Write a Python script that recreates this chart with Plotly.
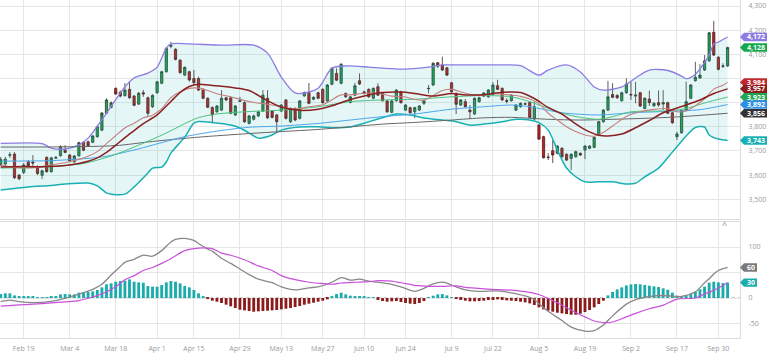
import pandas as pd
import plotly.graph_objects as go

# ---------------- trading calendar ----------------
holidays = ["2024-03-29", "2024-04-10", "2024-04-11", "2024-05-01", "2024-05-22",
            "2024-06-03", "2024-06-17", "2024-07-08", "2024-09-16"]
days = [d.strftime("%Y-%m-%d") for d in pd.bdate_range("2024-02-12", "2024-10-02")]
dates = [d for d in days if d not in holidays]

tick_dates = ["2024-02-19", "2024-03-04", "2024-03-18", "2024-04-01", "2024-04-15",
              "2024-04-29", "2024-05-13", "2024-05-27", "2024-06-10", "2024-06-24",
              "2024-07-09", "2024-07-22", "2024-08-05", "2024-08-19", "2024-09-02",
              "2024-09-17", "2024-09-30"]
tick_text = ["Feb 19", "Mar 4", "Mar 18", "Apr 1", "Apr 15", "Apr 29", "May 13", "May 27",
             "Jun 10", "Jun 24", "Jul 9", "Jul 22", "Aug 5", "Aug 19", "Sep 2", "Sep 17", "Sep 30"]

# ---------------- OHLC ----------------
opens = [
    3644, 3646, 3682, 3687, 3600, 3611, 3655, 3654, 3635, 3599,
    3673, 3614, 3670, 3680, 3703, 3683, 3655, 3680, 3736, 3738,
    3736, 3759, 3786, 3856, 3880, 3959, 3943, 3929, 3955, 3927,
    3894, 3941, 3920, 3883, 3941, 3980, 4028, 4133, 4121, 4076,
    4014, 4028, 4000, 4000, 3955, 3918, 3880, 3862, 3869, 3920,
    3920, 3849, 3905, 3900, 3814, 3831, 3845, 3865, 3918, 3865,
    3849, 3865, 3911, 3821, 3876, 3835, 3928, 3942, 3914, 3941,
    3955, 3907, 3976, 4021, 3980, 3938, 3901, 3931, 3991, 3945,
    3955, 3918, 3966, 3938, 3907, 3860, 3908, 3945, 3869, 3879,
    3862, 3869, 3897, 3957, 3973, 4065, 4056, 4044, 3982, 3938,
    3890, 3904, 3869, 3853, 3904, 3927, 3924, 3934, 3970, 3959,
    3909, 3908, 3869, 3883, 3895, 3901, 3832, 3807, 3759, 3675,
    3701, 3690, 3711, 3686, 3669, 3676, 3690, 3704, 3711, 3715,
    3766, 3821, 3869, 3934, 3930, 3908, 3941, 3934, 3927, 3941,
    3876, 3915, 3887, 3900, 3894, 3900, 3858, 3759, 3775, 3869,
    3918, 3991, 4002, 4035, 4073, 4191, 4088, 4050, 4052]
highs = [
    3675, 3676, 3695, 3695, 3604, 3650, 3662, 3683, 3640, 3622,
    3678, 3676, 3679, 3724, 3724, 3687, 3683, 3738, 3740, 3742,
    3766, 3804, 3861, 3918, 3905, 3963, 3950, 3981, 3987, 3932,
    3944, 3952, 3925, 3935, 3990, 4032, 4130, 4152, 4125, 4080,
    4050, 4032, 4035, 4007, 3959, 3922, 3884, 3890, 3952, 3924,
    3924, 3890, 3924, 3905, 3849, 3851, 3866, 3952, 3952, 3869,
    3853, 3894, 3915, 3880, 3880, 3911, 3946, 3981, 3926, 3945,
    3959, 3977, 4046, 4042, 4063, 3942, 3928, 3982, 4021, 3949,
    3959, 3963, 3980, 3942, 3911, 3911, 3956, 3949, 3894, 3883,
    3883, 3890, 3914, 3973, 4067, 4068, 4090, 4048, 3986, 3942,
    3915, 3915, 3890, 3922, 3924, 3944, 3956, 3985, 3995, 3963,
    3918, 3935, 3894, 3901, 3900, 3905, 3904, 3811, 3763, 3690,
    3745, 3724, 3715, 3690, 3690, 3701, 3694, 3724, 3724, 3760,
    3825, 3873, 3990, 3980, 3934, 3945, 4001, 3985, 3986, 3945,
    3922, 3950, 3901, 3950, 3952, 3904, 3862, 3779, 3873, 3987,
    3977, 4069, 4059, 4097, 4193, 4239, 4092, 4063, 4132]
lows = [
    3637, 3637, 3671, 3584, 3579, 3604, 3633, 3629, 3600, 3584,
    3610, 3610, 3668, 3676, 3691, 3654, 3650, 3676, 3699, 3717,
    3732, 3755, 3782, 3852, 3876, 3932, 3922, 3925, 3916, 3885,
    3890, 3924, 3845, 3878, 3937, 3976, 4024, 4125, 4075, 4020,
    4010, 3987, 3973, 3948, 3914, 3877, 3815, 3858, 3865, 3907,
    3852, 3845, 3903, 3816, 3810, 3826, 3840, 3861, 3832, 3835,
    3775, 3861, 3830, 3816, 3823, 3830, 3924, 3893, 3910, 3914,
    3896, 3903, 3972, 3989, 3976, 3920, 3897, 3927, 3973, 3934,
    3920, 3914, 3927, 3904, 3858, 3856, 3904, 3896, 3865, 3854,
    3836, 3865, 3890, 3938, 3969, 4044, 4031, 4010, 3941, 3853,
    3886, 3879, 3832, 3849, 3900, 3923, 3920, 3930, 3951, 3907,
    3897, 3904, 3865, 3879, 3890, 3835, 3828, 3745, 3668, 3662,
    3650, 3686, 3672, 3658, 3621, 3672, 3679, 3666, 3707, 3711,
    3762, 3817, 3865, 3918, 3916, 3904, 3937, 3911, 3897, 3882,
    3872, 3886, 3883, 3883, 3869, 3852, 3812, 3745, 3771, 3865,
    3914, 3987, 3998, 4031, 4069, 4093, 4034, 4043, 4048]
closes = [
    3665, 3666, 3684, 3589, 3585, 3642, 3639, 3650, 3607, 3618,
    3614, 3671, 3673, 3717, 3694, 3658, 3679, 3734, 3703, 3721,
    3762, 3800, 3857, 3911, 3899, 3936, 3927, 3952, 3920, 3889,
    3939, 3936, 3856, 3930, 3986, 4028, 4125, 4137, 4079, 4024,
    4046, 3994, 3983, 3952, 3918, 3881, 3849, 3886, 3918, 3911,
    3856, 3886, 3908, 3821, 3845, 3845, 3862, 3931, 3837, 3839,
    3821, 3890, 3835, 3876, 3828, 3907, 3942, 3897, 3922, 3918,
    3900, 3973, 4042, 3993, 4059, 3924, 3924, 3970, 3977, 3938,
    3924, 3959, 3931, 3908, 3862, 3907, 3952, 3900, 3890, 3858,
    3879, 3886, 3907, 3959, 4063, 4051, 4035, 4014, 3945, 3893,
    3911, 3883, 3862, 3918, 3920, 3940, 3952, 3973, 3955, 3911,
    3906, 3931, 3890, 3897, 3894, 3839, 3883, 3749, 3672, 3673,
    3683, 3720, 3676, 3662, 3686, 3697, 3683, 3720, 3720, 3756,
    3821, 3869, 3924, 3922, 3920, 3941, 3977, 3932, 3931, 3886,
    3918, 3900, 3897, 3890, 3900, 3856, 3817, 3770, 3869, 3904,
    3973, 4005, 4014, 4073, 4189, 4097, 4038, 4052, 4128]

# ---------------- overlays (bar index, value) ----------------
bb_up_idx = [0, 9, 11, 14, 17, 19, 23, 27, 29, 32, 34, 35, 36, 37, 41, 48, 55, 58, 61, 64,
             67, 69, 70, 72, 75, 80, 83, 87, 91, 93, 96, 101, 109, 113, 117, 119, 123, 126, 129, 131,
             135, 138, 141, 145, 148, 149, 151, 154, 155, 156, 158]
bb_up_val = [3731, 3730, 3712, 3708, 3725, 3753, 3857, 3965, 4002, 4022, 4047, 4085, 4126, 4143, 4143, 4138, 4138, 4105, 4006, 3940,
             3944, 3960, 3985, 4043, 4052, 4047, 4043, 4039, 4043, 4047, 4056, 4056, 4056, 4053, 4014, 4035, 4056, 4027, 3965, 3952,
             3965, 4002, 4035, 4033, 4010, 3999, 4018, 4097, 4143, 4151, 4172]
bb_lo_idx = [0, 6, 11, 14, 19, 21, 23, 24, 27, 29, 32, 33, 35, 36, 37, 40, 42, 43, 46, 50,
             52, 54, 56, 59, 61, 65, 69, 72, 76, 79, 82, 85, 86, 89, 92, 96, 99, 102, 105, 109,
             112, 115, 117, 119, 121, 123, 125, 127, 130, 133, 136, 138, 140, 143, 146, 149, 151, 153, 154, 156, 158]
bb_lo_val = [3538, 3551, 3557, 3563, 3567, 3555, 3526, 3521, 3521, 3551, 3609, 3629, 3633, 3654, 3691, 3757, 3815, 3822, 3818, 3807,
             3795, 3774, 3753, 3766, 3786, 3799, 3800, 3796, 3799, 3815, 3832, 3849, 3853, 3849, 3836, 3828, 3821, 3807, 3811, 3821,
             3831, 3828, 3817, 3786, 3704, 3629, 3593, 3572, 3572, 3572, 3563, 3566, 3593, 3629, 3695, 3762, 3797, 3799, 3766, 3749, 3743]
sma_idx = [0, 5, 10, 14, 17, 19, 21, 23, 25, 27, 29, 31, 34, 37, 39, 41, 43, 46, 48, 51,
           54, 58, 61, 65, 69, 72, 76, 80, 83, 87, 90, 94, 98, 101, 105, 109, 113, 116, 119, 122,
           124, 127, 130, 132, 135, 138, 141, 144, 148, 152, 155, 158]
sma_val = [3633, 3635, 3635, 3640, 3648, 3657, 3671, 3694, 3724, 3755, 3784, 3813, 3849, 3905, 3942, 3967, 3976, 3971, 3968, 3961,
           3950, 3908, 3882, 3868, 3873, 3887, 3913, 3932, 3942, 3944, 3938, 3927, 3938, 3932, 3933, 3943, 3942, 3917, 3880, 3852,
           3825, 3788, 3765, 3762, 3770, 3796, 3826, 3858, 3884, 3911, 3938, 3957]
ema_idx = [0, 4, 8, 12, 15, 17, 19, 21, 23, 25, 27, 29, 31, 33, 35, 37, 39, 41, 43, 45,
           47, 50, 54, 58, 61, 64, 67, 70, 72, 74, 76, 79, 82, 85, 88, 90, 92, 94, 96, 98,
           101, 104, 107, 110, 113, 115, 117, 119, 121, 123, 125, 127, 129, 131, 133, 136, 139, 142, 145, 147,
           149, 151, 153, 155, 157, 158]
ema_val = [3642, 3630, 3632, 3645, 3655, 3665, 3678, 3697, 3730, 3763, 3795, 3815, 3837, 3848, 3875, 3921, 3945, 3959, 3960, 3950,
           3937, 3924, 3904, 3893, 3883, 3873, 3883, 3891, 3912, 3932, 3932, 3939, 3939, 3927, 3923, 3913, 3910, 3929, 3950, 3955,
           3939, 3930, 3937, 3933, 3926, 3915, 3896, 3856, 3828, 3800, 3780, 3766, 3761, 3777, 3803, 3843, 3862, 3872, 3875, 3862,
           3865, 3887, 3916, 3956, 3972, 3984]
ma50_idx = [0, 11, 18, 24, 29, 36, 40, 43, 47, 54, 61, 69, 76, 83, 90, 98, 105, 111, 115, 119,
            122, 126, 130, 133, 137, 142, 146, 149, 154, 158]
ma50_val = [3629, 3635, 3648, 3679, 3716, 3774, 3813, 3838, 3853, 3863, 3869, 3883, 3904, 3911, 3914, 3924, 3929, 3924, 3904, 3876,
            3856, 3839, 3831, 3842, 3862, 3865, 3867, 3876, 3904, 3923]
ma100_idx = [0, 11, 22, 29, 33, 40, 47, 54, 61, 69, 76, 83, 90, 98, 105, 111, 115, 122, 130, 137, 144, 152, 158]
ma100_val = [3658, 3660, 3675, 3704, 3724, 3759, 3782, 3798, 3803, 3814, 3828, 3842, 3853, 3873, 3883, 3890, 3883, 3858, 3849, 3858,
             3863, 3871, 3892]
ma200_idx = [0, 14, 25, 32, 36, 43, 54, 61, 69, 76, 83, 90, 98, 105, 111, 119, 126, 133, 140, 148, 158]
ma200_val = [3716, 3717, 3722, 3737, 3745, 3757, 3772, 3780, 3789, 3800, 3811, 3818, 3828, 3837, 3839, 3831, 3828, 3831, 3835, 3842,
             3856]

# ---------------- MACD ----------------
hist = [
    7.8, 9.2, 9.2, 5.2, 3.9, 3.9, 3.3, 3.3, 1.3, 0.7,
    1.3, 2.6, 3.9, 7.2, 7.8, 7.2, 7.2, 10.5, 11.1, 11.8,
    13.1, 15.7, 20.9, 26.8, 28.8, 32.0, 33.3, 34.0, 36.6, 32.0,
    30.7, 30.0, 23.5, 22.2, 22.2, 25.5, 30.7, 33.3, 32.0, 28.8,
    23.5, 20.9, 15.7, 9.2, 2.6, -2.0, -5.2, -7.2, -9.8, -13.0,
    -16.3, -19.6, -22.9, -24.2, -25.5, -26.8, -26.1, -25.5, -24.8, -24.2,
    -23.5, -22.2, -20.9, -19.6, -17.6, -15.7, -13.1, -11.1, -9.2, -7.2,
    -5.2, -2.6, 3.9, 7.8, 10.5, 7.2, 4.6, 3.9, 3.9, 2.6,
    1.3, 0.5, -3.9, -5.9, -7.2, -6.5, -5.9, -7.8, -9.8, -11.1,
    -11.8, -9.8, -5.9, 0.7, 4.6, 7.2, 7.8, 5.2, 0.7, -2.0,
    -3.9, -5.2, -6.5, -6.5, -5.9, -5.2, -3.9, -3.9, -2.6, -3.9,
    -4.6, -5.2, -5.9, -7.2, -8.5, -10.5, -13.7, -18.3, -22.2, -24.8,
    -26.8, -28.8, -30.1, -31.4, -32.7, -32.7, -30.7, -27.5, -23.5, -18.3,
    -11.8, -5.2, 5.2, 11.8, 17.0, 20.9, 24.8, 26.8, 27.5, 26.8,
    25.5, 24.2, 22.9, 21.6, 19.0, 16.3, 10.5, 4.6, 2.6, 3.9,
    8.5, 12.4, 17.0, 22.2, 30.1, 32.0, 30.7, 29.4, 30.3]
macd_idx = [0, 2, 4, 7, 11, 14, 18, 20, 22, 24, 26, 27, 29, 31, 33, 35, 37, 38, 40, 42,
            43, 45, 46, 48, 50, 52, 54, 56, 59, 61, 64, 67, 69, 72, 74, 76, 78, 80, 82, 85,
            87, 90, 92, 93, 95, 96, 97, 99, 101, 104, 108, 111, 114, 116, 117, 119, 122, 124, 127, 129,
            130, 131, 133, 136, 138, 141, 144, 148, 151, 153, 154, 155, 156, 158]
macd_val = [-7, -4, -7, -9, -6.5, -0.5, 10.5, 17, 27, 45, 62, 70, 76, 84, 82, 93, 110, 115, 117, 113,
            107, 96, 92, 78, 68, 57, 46, 37, 30, 22, 16, 20, 22, 31, 40, 35, 37, 33, 31, 27,
            22, 13, 19, 24, 30, 31, 29, 22, 16, 13, 14, 10, 4, -3, -11, -26, -44, -57, -65, -64,
            -59, -53, -35, -12, -3, 3, 5, 3, 12, 30, 38, 47, 54, 60]
sig_idx = [0, 4, 7, 11, 14, 17, 20, 22, 25, 27, 29, 31, 33, 35, 37, 40, 43, 45, 46, 48,
           50, 53, 56, 59, 61, 64, 67, 69, 72, 74, 77, 80, 82, 85, 87, 90, 93, 96, 99, 101,
           104, 108, 111, 114, 117, 119, 122, 124, 127, 129, 131, 133, 136, 138, 141, 144, 147, 151, 153, 155, 158]
sig_val = [-15.7, -13.5, -12, -9.5, -7.5, -5, 2, 8, 22, 36, 44, 54, 60, 68, 77, 93, 98, 98, 97, 88,
           84, 75, 63, 54, 44, 36, 31, 29, 27, 29.5, 31, 32, 34, 33, 30, 25, 23, 23, 24, 21,
           19, 16.5, 15.5, 12.5, 7, -1, -14, -24, -37, -45, -48, -47, -37, -30, -21, -14, -2, 0, 8, 15, 30]

def at(idx):
    return [dates[i] for i in idx]

C_UP, C_LO = "#8b7de3", "#19b0b4"
C_SMA, C_EMA = "#8c1f1f", "#c48080"
C_50, C_100, C_200 = "#4cc27e", "#4aa6ee", "#666666"
C_MACD, C_SIG = "#888888", "#c94fdc"
C_POS, C_NEG = "#1aabab", "#8b1a1a"

fig = go.Figure()
sp = dict(shape="spline", smoothing=0.8)
fig.add_trace(go.Scatter(x=at(bb_up_idx), y=bb_up_val, mode="lines", line=dict(color=C_UP, width=1.3, **sp),
                         xaxis="x", yaxis="y"))
fig.add_trace(go.Scatter(x=at(bb_lo_idx), y=bb_lo_val, mode="lines", line=dict(color=C_LO, width=1.5, **sp),
                         fill="tonexty", fillcolor="rgba(40,180,180,0.12)", xaxis="x", yaxis="y"))
for idx, val, col, w in [(ma200_idx, ma200_val, C_200, 1.0), (ma100_idx, ma100_val, C_100, 1.0),
                         (ma50_idx, ma50_val, C_50, 1.0), (ema_idx, ema_val, C_EMA, 1.1),
                         (sma_idx, sma_val, C_SMA, 1.5)]:
    fig.add_trace(go.Scatter(x=at(idx), y=val, mode="lines", line=dict(color=col, width=w, **sp),
                             xaxis="x", yaxis="y"))
fig.add_trace(go.Candlestick(x=dates, open=opens, high=highs, low=lows, close=closes,
                             increasing=dict(line=dict(color="#2f3b33", width=0.8), fillcolor="#17a94b"),
                             decreasing=dict(line=dict(color="#4a2020", width=0.8), fillcolor="#c91d1d"),
                             whiskerwidth=0, xaxis="x", yaxis="y"))

fig.add_trace(go.Bar(x=dates, y=hist, marker=dict(color=[C_POS if v >= 0 else C_NEG for v in hist], line=dict(width=0)),
                     width=0.62, xaxis="x2", yaxis="y2"))
fig.add_trace(go.Scatter(x=at(macd_idx), y=macd_val, mode="lines", line=dict(color=C_MACD, width=1.3, **sp),
                         xaxis="x2", yaxis="y2"))
fig.add_trace(go.Scatter(x=at(sig_idx), y=sig_val, mode="lines", line=dict(color=C_SIG, width=1.2, **sp),
                         xaxis="x2", yaxis="y2"))

grid = "#e6e6e6"
border = "#dcdcdc"
xcommon = dict(type="category", categoryorder="array", categoryarray=dates, range=[-0.15, 160.7],
               tickvals=tick_dates, ticktext=tick_text, showgrid=True, gridcolor=grid, gridwidth=1,
               showline=True, linecolor=border, mirror=True, ticks="", zeroline=False,
               rangeslider=dict(visible=False))
top_ticks = [3500, 3600, 3700, 3800, 3900, 4000, 4100, 4200, 4300]
top_text = ["3,500", "3,600", "3,700", "3,800", "", "", "4,100", "4,200", "4,300"]
fig.update_layout(
    width=768, height=354, margin=dict(l=0, r=28, t=0, b=16),
    paper_bgcolor="white", plot_bgcolor="white", showlegend=False, hovermode=False,
    font=dict(family="Open Sans", size=7, color="#9a9a9a"),
    xaxis=dict(anchor="y", matches="x2", showticklabels=False, **xcommon),
    xaxis2=dict(anchor="y2", showticklabels=True, ticklabelstandoff=4, **xcommon),
    yaxis=dict(domain=[0.352, 1.0], side="right", range=[3418, 4325], tickvals=top_ticks, ticktext=top_text,
               showgrid=True, gridcolor=grid, showline=True, linecolor=border, mirror=True, ticks="",
               zeroline=False, ticklabelstandoff=6),
    yaxis2=dict(domain=[0.0, 0.343], side="right", range=[-78.4, 149], tickvals=[-50, 0, 50, 100],
                ticktext=["-50", "0", "", "100"], showgrid=True, gridcolor=grid, showline=True,
                linecolor=border, mirror=True, ticks="", zeroline=False, ticklabelstandoff=6),
    bargap=0.3,
)

shapes = [dict(type="line", xref="paper", yref="y2", x0=0, x1=1, y0=0, y1=0,
               line=dict(color="#9a9a9a", width=1, dash="dot"), layer="below")]
annotations = [dict(x=0.985, y=0.31, xref="paper", yref="paper", text="^", showarrow=False,
                    font=dict(size=9, color="#888"))]

def tag(v, color, yref, width):
    shapes.append(dict(type="path", xref="paper", yref=yref, xsizemode="pixel", ysizemode="pixel",
                       xanchor=1, yanchor=v,
                       path=f"M0,0 L4,4.2 L{width},4.2 L{width},-4.2 L4,-4.2 Z",
                       fillcolor=color, line=dict(width=0), layer="above"))
    annotations.append(dict(x=1, xref="paper", y=v, yref=yref, xanchor="center", yanchor="middle",
                            xshift=(width + 4) / 2, text=f"<b>{v:,.0f}</b>", showarrow=False,
                            font=dict(size=7, color="white")))

for v, c in [(bb_up_val[-1], C_UP), (closes[-1], "#13a84a"), (ema_val[-1], "#c0282d"),
             (sma_val[-1], "#8b1c1c"), (ma50_val[-1], "#22a852"), (ma100_val[-1], "#2f8fe6"),
             (ma200_val[-1], "#333333"), (bb_lo_val[-1], C_LO)]:
    tag(v, c, "y", 27)
tag(macd_val[-1], "#7a7a7a", "y2", 17)
tag(hist[-1], C_POS, "y2", 17)

fig.update_layout(shapes=shapes, annotations=annotations)
fig.write_html("out.html")
